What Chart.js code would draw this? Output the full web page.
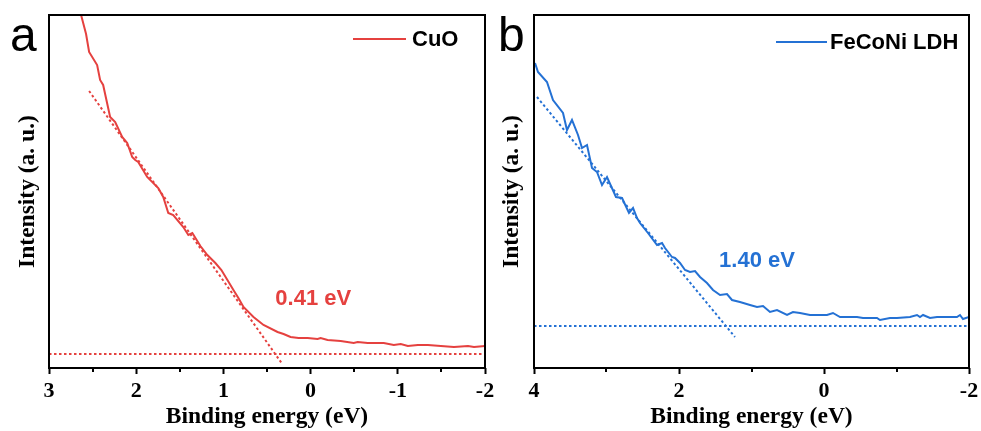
<!DOCTYPE html>
<html>
<head>
<meta charset="utf-8">
<script src="https://cdn.jsdelivr.net/npm/chart.js@4"></script>
<style>
  html, body { margin: 0; padding: 0; background: #ffffff; }
  #wrap { position: relative; width: 981px; height: 431px; overflow: hidden; background: #fff; }
  canvas { position: absolute; top: 0; }
</style>
</head>
<body>
<div id="wrap">
  <canvas id="chartA" width="510" height="431" style="left:0px"></canvas>
  <canvas id="chartB" width="491" height="431" style="left:490px"></canvas>
</div>
<script>
// ---------- DATA ----------
// Panel a: CuO valence band spectrum
const cuoEnergy = [2.632, 2.575, 2.540, 2.448, 2.414, 2.379, 2.299, 2.241, 2.161, 2.103, 2.046, 2.011, 1.977,
  1.874, 1.747, 1.690, 1.632, 1.575, 1.460, 1.402, 1.356, 1.264, 1.184, 1.092, 1.023, 0.954, 0.885, 0.828,
  0.770, 0.655, 0.540, 0.379, 0.310, 0.230, 0.138, 0.034, -0.080, -0.115, -0.195, -0.345, -0.494, -0.540,
  -0.655, -0.724, -0.839, -0.954, -1.034, -1.115, -1.230, -1.345, -1.494, -1.644, -1.805, -1.874, -2.0];
const cuoIntensity = [353, 334, 316, 303, 288, 283, 251, 246, 231, 225, 211, 208, 206,
  191, 180, 171, 155, 153, 141, 133, 135, 122, 113, 105, 98, 88, 78, 70,
  61, 51, 43, 36, 34, 31, 30, 30, 29, 30, 28, 27, 25, 26,
  25, 25, 25, 23, 24, 22, 23, 23, 22, 21, 22, 21, 22];
// linear fit of the leading edge and the background line
const cuoFitEnergy = [2.54, 0.333];
const cuoFitIntensity = [277, 5];
const cuoBaseEnergy = [3, -2];
const cuoBaseIntensity = [14, 14];
const cuoXTicks = [3, 2, 1, 0, -1, -2];
const cuoMinorTicks = [2.5, 1.5, 0.5, -0.5, -1.5];
const cuoEdgeLabel = "0.41 eV";

// Panel b: FeCoNi LDH valence band spectrum
const ldhEnergy = [3.986, 3.945, 3.821, 3.738, 3.600, 3.545, 3.476, 3.393, 3.338, 3.269, 3.200, 3.131,
  3.062, 2.993, 2.869, 2.786, 2.690, 2.634, 2.579, 2.538, 2.428, 2.303, 2.234, 2.193, 2.097, 2.055, 1.986,
  1.917, 1.848, 1.779, 1.710, 1.614, 1.531, 1.434, 1.338, 1.269, 1.159, 1.021, 0.924, 0.841, 0.745, 0.648,
  0.510, 0.428, 0.331, 0.193, 0.055, -0.041, -0.124, -0.221, -0.455, -0.538, -0.731, -0.772, -0.910, -1.007,
  -1.186, -1.283, -1.324, -1.366, -1.462, -1.559, -1.641, -1.738, -1.834, -1.876, -1.917, -2.0];
const ldhIntensity = [305, 296, 286, 268, 255, 238, 248, 233, 220, 223, 200, 196,
  183, 191, 171, 170, 155, 160, 150, 145, 135, 123, 125, 120, 111, 110, 105,
  98, 96, 97, 91, 85, 78, 73, 74, 68, 66, 63, 61, 62, 56, 58,
  53, 56, 55, 53, 53, 53, 55, 51, 51, 50, 50, 48, 50, 50,
  51, 53, 51, 53, 50, 51, 51, 51, 51, 53, 49, 51];
const ldhFitEnergy = [3.959, 1.228];
const ldhFitIntensity = [271, 31];
const ldhBaseEnergy = [4, -2];
const ldhBaseIntensity = [42, 42];
const ldhXTicks = [4, 2, 0, -2];
const ldhMinorTicks = [3, 1, -1];
const ldhEdgeLabel = "1.40 eV";

const RED = '#e5413f';
const BLUE = '#2471d4';
const SERIF = "'Liberation Serif', 'Times New Roman', serif";
const SANS = "'Liberation Sans', Arial, sans-serif";

function pts(xs, ys) { return xs.map((x, i) => ({ x: x, y: ys[i] })); }

const decor = {
  id: 'decor',
  afterDraw(chart, args, o) {
    const ctx = chart.ctx;
    const a = chart.chartArea;
    const xs = chart.scales.x, ys = chart.scales.y;
    ctx.save();
    // frame
    ctx.strokeStyle = '#000';
    ctx.lineWidth = 2;
    ctx.strokeRect(a.left, a.top, a.right - a.left, a.bottom - a.top);
    // minor ticks
    ctx.lineWidth = 2;
    o.minor.forEach(v => {
      const px = Math.round(xs.getPixelForValue(v));
      ctx.beginPath();
      ctx.moveTo(px, a.bottom);
      ctx.lineTo(px, a.bottom + 4);
      ctx.stroke();
    });
    // edge label
    ctx.fillStyle = o.color;
    ctx.font = "bold 22px " + SANS;
    ctx.textAlign = 'center';
    ctx.textBaseline = 'middle';
    ctx.fillText(o.note, xs.getPixelForValue(o.noteX), ys.getPixelForValue(o.noteY));
    // legend
    const ly = a.top + o.legY;
    ctx.strokeStyle = o.color;
    ctx.lineWidth = 2;
    ctx.beginPath();
    ctx.moveTo(a.right - o.legLine[0], ly);
    ctx.lineTo(a.right - o.legLine[1], ly);
    ctx.stroke();
    ctx.fillStyle = '#000';
    ctx.textAlign = 'left';
    ctx.fillText(o.legText, a.right - o.legTextX, ly + 1);
    // panel letter
    ctx.font = "48px " + SANS;
    ctx.textBaseline = 'alphabetic';
    ctx.fillText(o.letter, o.letterX, 51);
    ctx.restore();
  }
};

function makeChart(id, cfg) {
  return new Chart(document.getElementById(id), {
    type: 'line',
    data: {
      datasets: [
        { data: pts(cfg.energy, cfg.intensity), borderColor: cfg.color, borderWidth: 2, pointRadius: 0, tension: 0 },
        { data: pts(cfg.fitE, cfg.fitI), borderColor: cfg.color, borderWidth: 2, borderDash: [2.5, 2.5], pointRadius: 0 },
        { data: pts(cfg.baseE, cfg.baseI), borderColor: cfg.color, borderWidth: 2, borderDash: [2.5, 2.5], pointRadius: 0 }
      ]
    },
    options: {
      responsive: false,
      animation: false,
      events: [],
      layout: { padding: { top: 15, right: cfg.padRight, left: 0, bottom: 0 } },
      plugins: {
        legend: { display: false },
        tooltip: { enabled: false },
        decor: cfg.decor
      },
      scales: {
        x: {
          type: 'linear',
          reverse: true,
          min: cfg.xMin, max: cfg.xMax,
          afterBuildTicks: s => { s.ticks = cfg.xTicks.map(v => ({ value: v })); },
          afterFit: s => { s.height = 63; s.paddingLeft = 0; s.paddingRight = 0; },
          ticks: {
            color: '#000', padding: 4, maxRotation: 0, autoSkip: false,
            font: { family: SERIF, size: 22, weight: 'bold' },
            callback: v => String(v)
          },
          grid: { display: true, drawOnChartArea: false, drawTicks: true, tickLength: 6, tickWidth: 2, tickColor: '#000' },
          border: { display: false },
          title: {
            display: true, text: 'Binding energy (eV)', color: '#000',
            font: { family: SERIF, size: 23.5, weight: 'bold' },
            padding: { top: 0, bottom: 0 }
          }
        },
        y: {
          type: 'linear',
          min: 0, max: 353,
          afterFit: s => { s.width = cfg.yWidth; },
          ticks: { display: false },
          grid: { display: false },
          border: { display: false },
          title: {
            display: true, text: 'Intensity (a. u.)', color: '#000',
            font: { family: SERIF, size: 23.5, weight: 'bold' },
            padding: { top: cfg.yTitlePad, bottom: 0 }
          }
        }
      }
    },
    plugins: [decor]
  });
}

makeChart('chartA', {
  energy: cuoEnergy, intensity: cuoIntensity, color: RED,
  fitE: cuoFitEnergy, fitI: cuoFitIntensity, baseE: cuoBaseEnergy, baseI: cuoBaseIntensity,
  xMin: -2, xMax: 3, xTicks: cuoXTicks, padRight: 25, yWidth: 49, yTitlePad: 14,
  decor: { minor: cuoMinorTicks, color: RED, note: cuoEdgeLabel, noteX: -0.03, noteY: 69,
    legY: 24, legLine: [132, 79], legText: 'CuO', legTextX: 73, letter: 'a', letterX: 10 }
});

makeChart('chartB', {
  energy: ldhEnergy, intensity: ldhIntensity, color: BLUE,
  fitE: ldhFitEnergy, fitI: ldhFitIntensity, baseE: ldhBaseEnergy, baseI: ldhBaseIntensity,
  xMin: -2, xMax: 4, xTicks: ldhXTicks, padRight: 12, yWidth: 44, yTitlePad: 8,
  decor: { minor: ldhMinorTicks, color: BLUE, note: ldhEdgeLabel, noteX: 0.924, noteY: 107,
    legY: 27, legLine: [193, 142], legText: 'FeCoNi LDH', legTextX: 139, letter: 'b', letterX: 8 }
});
</script>
</body>
</html>
